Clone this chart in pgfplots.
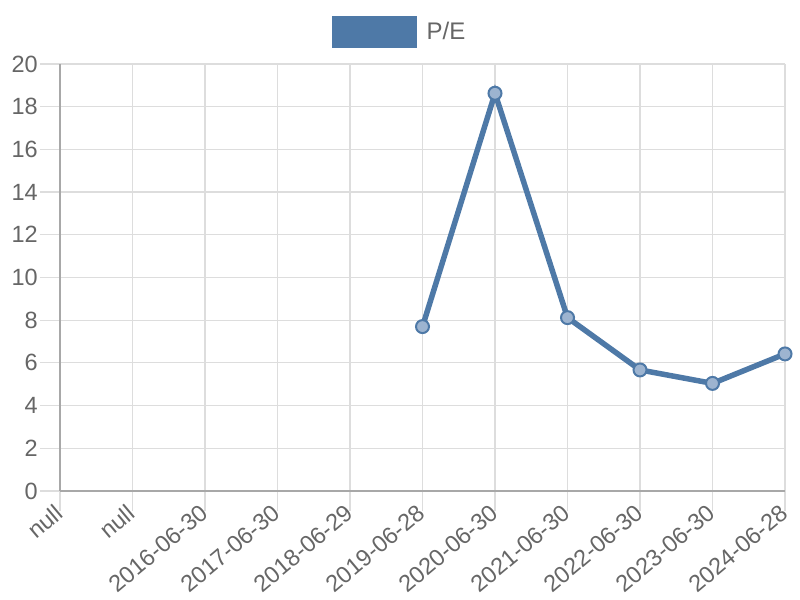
\documentclass[border=0pt]{standalone}
\usepackage{fontspec}
\setmainfont{Liberation Sans}
\usepackage{pgfplots}
\pgfplotsset{compat=1.18}
\definecolor{pe}{HTML}{4E79A7}
\definecolor{pefill}{HTML}{9DB4D0}
\definecolor{tick}{HTML}{666666}
\definecolor{gridc}{HTML}{DDDDDD}
\definecolor{axc}{HTML}{A8A8A8}
\begin{document}
\begin{tikzpicture}[x=1bp,y=1bp]
\useasboundingbox (0,0) rectangle (800,600);
\begin{axis}[
  at={(60bp,109bp)}, anchor=south west,
  scale only axis, width=725bp, height=427bp,
  xmin=0, xmax=10, ymin=0, ymax=20,
  xtick={0,1,...,10},
  xticklabels={null,null,2016-06-30,2017-06-30,2018-06-29,2019-06-28,2020-06-30,2021-06-30,2022-06-30,2023-06-30,2024-06-28},
  ytick={0,2,...,20},
  axis lines*=left,
  axis line style={axc, line width=1.5bp},
  grid=major,
  major grid style={gridc, line width=1.2bp},
  tick align=outside,
  major tick length=20bp,
  tick style={gridc, line width=1.2bp},
  /pgf/number format/assume math mode=true,
  tick label style={font=\fontsize{23.5bp}{28bp}\selectfont, text=tick},
  yticklabel style={anchor=east, inner sep=0pt, xshift=-2bp},
  xticklabel style={rotate=40, anchor=east, inner sep=0pt, xshift=0bp, yshift=1.5bp},
  clip=false,
  legend style={at={(0.3752,1.075)}, anchor=west, draw=none, fill=none,
    inner sep=0pt, column sep=10bp,
    nodes={inner sep=0pt, text=tick, font=\fontsize{24bp}{28bp}\selectfont}},
  legend image code/.code={\fill[pe] (0,-13bp) rectangle (79bp,13bp);},
]
\addplot[pe, line width=5.5bp, mark=*, mark size=6.5bp,
  mark options={fill=pefill, draw=pe, line width=2bp}]
  coordinates {(5,7.70) (6,18.63) (7,8.12) (8,5.67) (9,5.04) (10,6.42)};
\addlegendentry{P/E}
\end{axis}
\end{tikzpicture}
\end{document}
